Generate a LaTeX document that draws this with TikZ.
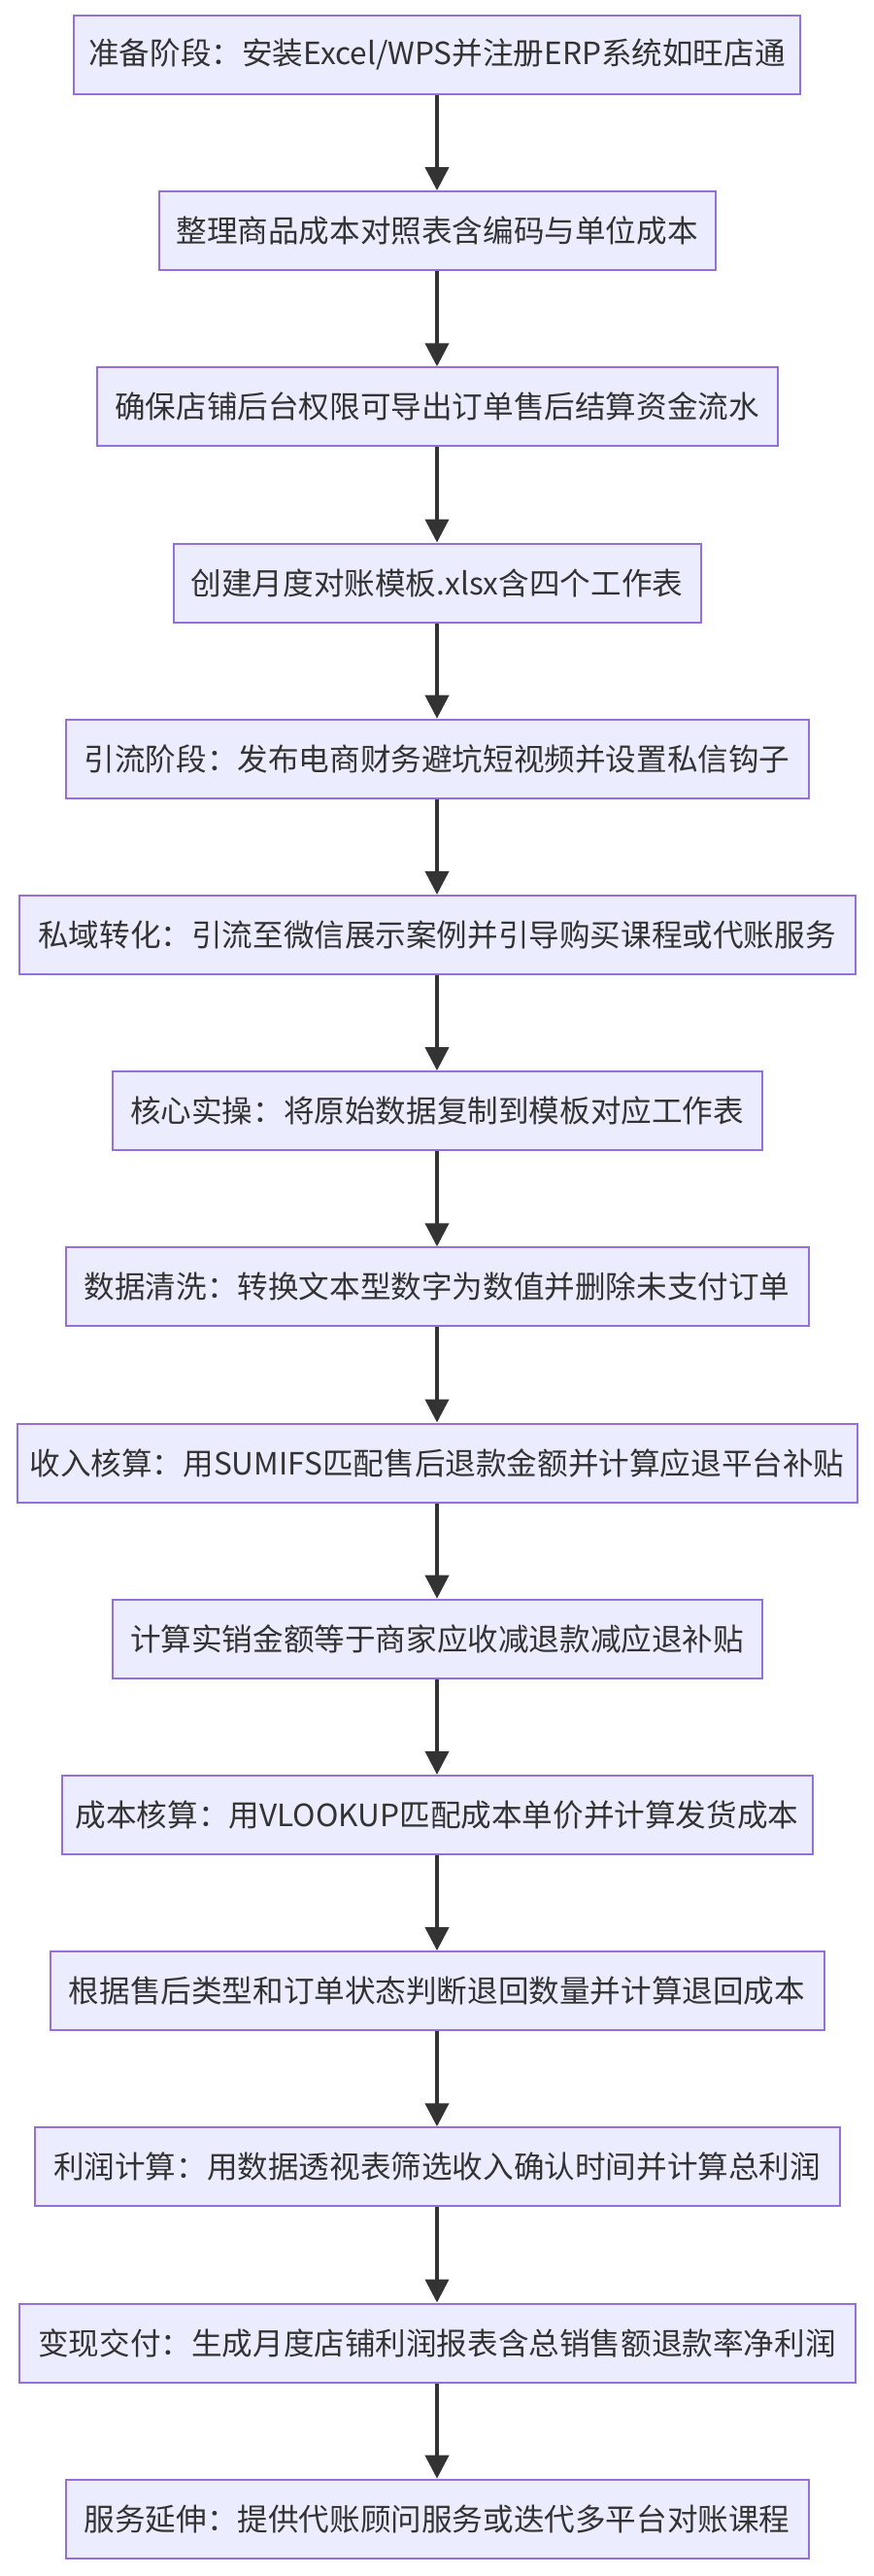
\documentclass[tikz,border=0pt]{standalone}
\usepackage{fontspec}
\setmainfont{Noto Sans CJK SC}
\usepackage{tikz}
\usetikzlibrary{arrows.meta, positioning}
\definecolor{nodefill}{HTML}{ECECFF}
\definecolor{nodeborder}{HTML}{9370DB}
\definecolor{linkgray}{HTML}{333333}
\tikzstyle{stage} = [rectangle, minimum height=40.5pt, inner xsep=5.5pt, text centered, draw=nodeborder, line width=1pt, fill=nodefill, text=linkgray, font=\fontsize{15.8pt}{18pt}\selectfont]
\tikzstyle{arrow} = [line width=2pt, draw=linkgray, -{Triangle[length=12pt, width=12pt]}]

\begin{document}
\begin{tikzpicture}[node distance=90.6pt]
\useasboundingbox (0,0) rectangle (450pt,-1326pt);

% Preparation
\node (prep) [stage, minimum width=374pt] at (225pt,-28.2pt) {准备阶段：安装Excel/WPS并注册ERP系统如旺店通};
\node (costtable) [stage, minimum width=286.5pt, below of=prep] {整理商品成本对照表含编码与单位成本};
\node (access) [stage, minimum width=350.5pt, below of=costtable] {确保店铺后台权限可导出订单售后结算资金流水};
\node (template) [stage, minimum width=271.5pt, below of=access] {创建月度对账模板.xlsx含四个工作表};

% Traffic and conversion
\node (traffic) [stage, minimum width=382.5pt, below of=template] {引流阶段：发布电商财务避坑短视频并设置私信钩子};
\node (private) [stage, minimum width=430.5pt, below of=traffic] {私域转化：引流至微信展示案例并引导购买课程或代账服务};

% Core operations
\node (coreop) [stage, minimum width=334.5pt, below of=private] {核心实操：将原始数据复制到模板对应工作表};
\node (cleaning) [stage, minimum width=382.5pt, below of=coreop] {数据清洗：转换文本型数字为数值并删除未支付订单};
\node (income) [stage, minimum width=432.5pt, below of=cleaning] {收入核算：用SUMIFS匹配售后退款金额并计算应退平台补贴};
\node (netsales) [stage, minimum width=334.5pt, below of=income] {计算实销金额等于商家应收减退款减应退补贴};
\node (costcalc) [stage, minimum width=386.5pt, below of=netsales] {成本核算：用VLOOKUP匹配成本单价并计算发货成本};
\node (returns) [stage, minimum width=398.5pt, below of=costcalc] {根据售后类型和订单状态判断退回数量并计算退回成本};
\node (profit) [stage, minimum width=414.5pt, below of=returns] {利润计算：用数据透视表筛选收入确认时间并计算总利润};

% Delivery
\node (delivery) [stage, minimum width=430.5pt, below of=profit] {变现交付：生成月度店铺利润报表含总销售额退款率净利润};
\node (extension) [stage, minimum width=382.5pt, below of=delivery] {服务延伸：提供代账顾问服务或迭代多平台对账课程};

% Arrows
\draw [arrow] (prep) -- (costtable);
\draw [arrow] (costtable) -- (access);
\draw [arrow] (access) -- (template);
\draw [arrow] (template) -- (traffic);
\draw [arrow] (traffic) -- (private);
\draw [arrow] (private) -- (coreop);
\draw [arrow] (coreop) -- (cleaning);
\draw [arrow] (cleaning) -- (income);
\draw [arrow] (income) -- (netsales);
\draw [arrow] (netsales) -- (costcalc);
\draw [arrow] (costcalc) -- (returns);
\draw [arrow] (returns) -- (profit);
\draw [arrow] (profit) -- (delivery);
\draw [arrow] (delivery) -- (extension);

\end{tikzpicture}
\end{document}
